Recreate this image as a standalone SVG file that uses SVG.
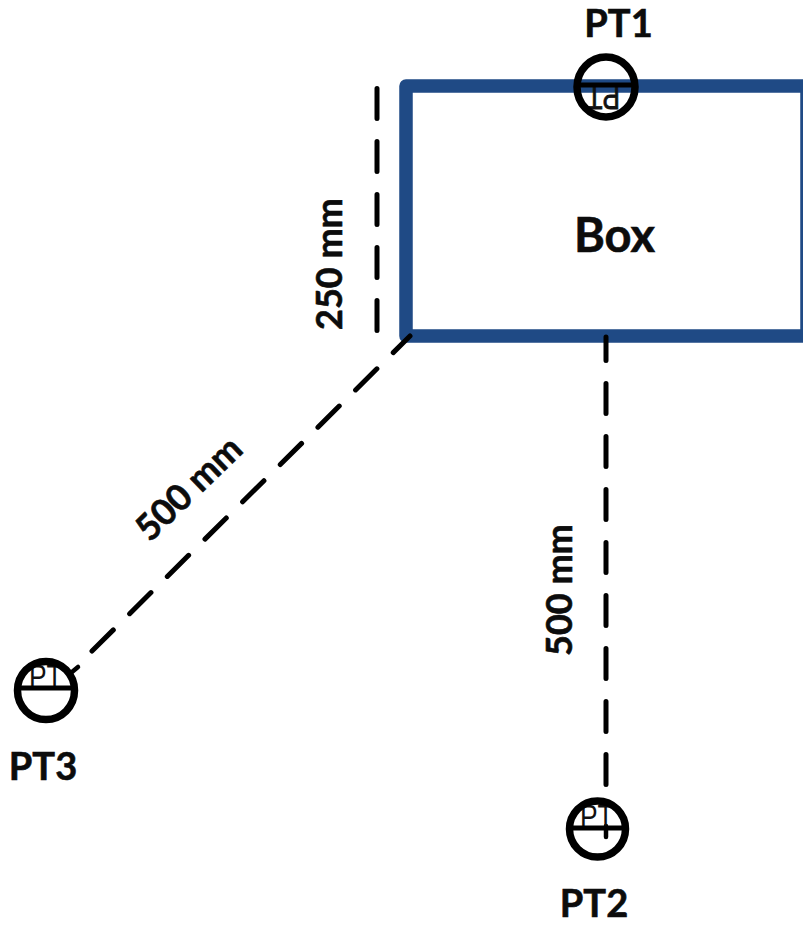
<svg xmlns="http://www.w3.org/2000/svg" width="803" height="925" viewBox="0 0 803 925">
<style>
.t{font-family:"Lato","Carlito","Liberation Sans",sans-serif;font-weight:700;fill:#0c0c0c;stroke:#0c0c0c;stroke-width:.6}
.l{font-size:36px}
.n{font-size:38px}
.s{font-family:"Liberation Sans",sans-serif;font-size:33px;fill:#111}
.d{fill:none;stroke:#000;stroke-width:5;stroke-linecap:round;stroke-dasharray:30 23}
.k{fill:none;stroke:#000;stroke-width:4.5;stroke-linecap:round}
.c{fill:none;stroke:#000;stroke-width:7.5}
.h{fill:none;stroke:#000;stroke-width:5}
.b{fill:none;stroke:#1f4a85;stroke-width:13.5;stroke-linejoin:round}
</style>
<defs>
<clipPath id="cp1"><ellipse cx="606" cy="87" rx="29" ry="30"/></clipPath>
<clipPath id="cp2"><ellipse cx="597.5" cy="829" rx="28" ry="28"/></clipPath>
<clipPath id="cp3"><ellipse cx="46" cy="690.5" rx="28.5" ry="29"/></clipPath>
</defs>
<rect width="803" height="925" fill="#fff"/>
<g id="box"><path class="b" d="M807 86H406V336H807V86"/><text class="t" x="614.5" y="252" font-size="47" text-anchor="middle">Box</text></g>
<g id="connectors">
<path class="d" d="M377 88.5V331"/>
<path class="d" d="M92 651L410 336"/>
<path class="k" d="M72 672L78 667"/>
<path class="d" d="M606 784.5V337"/>
<path class="k" d="M606 826V837"/>
</g>
<g id="dim-250"><text class="t l" transform="translate(342 330) rotate(-90)">250 mm</text></g>
<g id="dim-500-diag"><text class="t l" transform="translate(150 543) rotate(-44)">500 mm</text></g>
<g id="dim-500-vert"><text class="t l" transform="translate(571.5 656) rotate(-90)">500 mm</text></g>
<g id="pt1">
<g clip-path="url(#cp1)"><text class="s" stroke="#111" stroke-width=".8" transform="translate(620 86) rotate(180) scale(.8 1)">PT</text></g>
<ellipse class="c" cx="606" cy="87" rx="29" ry="30"/><path class="h" d="M577 85H635"/>
<text class="t n" x="618.5" y="37" text-anchor="middle">PT1</text>
</g>
<g id="pt2">
<g clip-path="url(#cp2)"><text class="s" transform="translate(580 828) scale(.8 1)">PT</text></g>
<circle class="c" cx="597.5" cy="829" r="28"/><path class="h" d="M569 828H626"/>
<text class="t n" x="594" y="917" text-anchor="middle">PT2</text>
</g>
<g id="pt3">
<g clip-path="url(#cp3)"><text class="s" transform="translate(29 688) scale(.8 1)">PT</text></g>
<ellipse class="c" cx="46" cy="690.5" rx="28.5" ry="29"/><path class="h" d="M17 688H75"/>
<text class="t n" x="43" y="780" text-anchor="middle">PT3</text>
</g>
</svg>
